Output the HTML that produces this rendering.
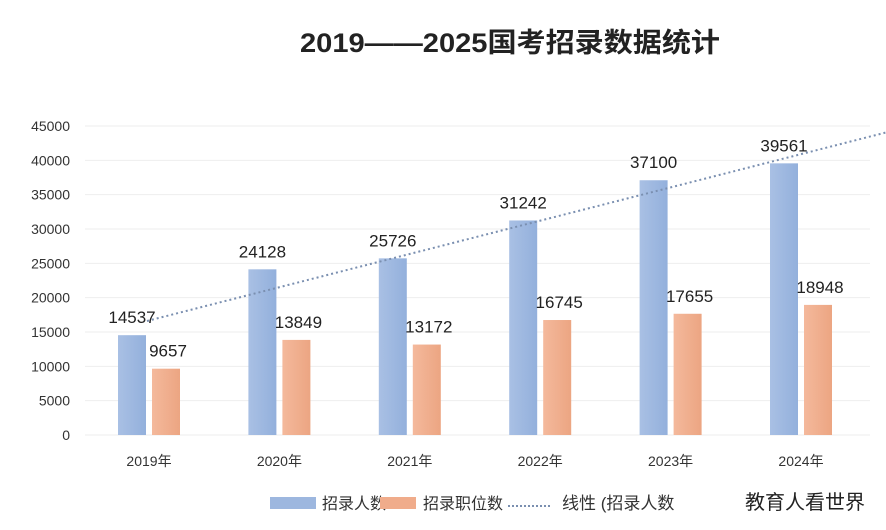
<!DOCTYPE html>
<html><head><meta charset="utf-8"><style>
body{margin:0;background:#fff;}
svg{display:block;font-family:"Liberation Sans","Noto Sans CJK SC",sans-serif;}
</style></head><body>
<svg id="c" width="886" height="530">
<defs>
<linearGradient id="gb" x1="0" x2="1"><stop offset="0" stop-color="#a9c0e4"/><stop offset="1" stop-color="#93b0dc"/></linearGradient>
<linearGradient id="go" x1="0" x2="1"><stop offset="0" stop-color="#f4b99c"/><stop offset="1" stop-color="#eca582"/></linearGradient>
</defs>
<text x="300" y="52" font-size="27" font-weight="bold" fill="#222" textLength="420" lengthAdjust="spacingAndGlyphs">2019——2025国考招录数据统计</text>
<g id="grid"></g><g id="bars"></g><g id="labels"></g>
<g>
<rect x="270" y="497" width="46" height="12" fill="#9db7df"/>
<text x="322" y="509" font-size="16" fill="#333">招录人数</text>
<rect x="380" y="497" width="36" height="12" fill="#f0ac8b"/>
<text x="423" y="509" font-size="16" fill="#333">招录职位数</text>
<line x1="508" y1="506" x2="552" y2="506" stroke="#7a8fb0" stroke-width="2" stroke-dasharray="2 2"/>
<text x="562" y="509" font-size="17" fill="#333">线性 (招录人数</text>
<text x="745" y="509" font-size="20" fill="#222">教育人看世界</text>
</g>
</svg>
<script>
const categories=["2019年","2020年","2021年","2022年","2023年","2024年"];
const hires=[14537,24128,25726,31242,37100,39561];
const positions=[9657,13849,13172,16745,17655,18948];
const ticks=[0,5000,10000,15000,20000,25000,30000,35000,40000,45000];
const NS="http://www.w3.org/2000/svg";
const y0=435,pxPer=309/45000;
const y=v=>y0-v*pxPer;
const x=i=>147+i*130.4;
function mk(tag,attrs,parent,text){const e=document.createElementNS(NS,tag);for(const k in attrs)e.setAttribute(k,attrs[k]);if(text!==undefined)e.textContent=text;document.getElementById(parent).appendChild(e);return e;}
ticks.forEach(t=>{
 const g=mk("line",{x1:85,x2:870,y1:y(t),y2:y(t),stroke:"#eeeeee","stroke-width":1},"grid");
 
 
 const l=mk("text",{x:70,y:y(t)+5,"text-anchor":"end","font-size":14,fill:"#333"},"labels",String(t));
 
 
});
categories.forEach((c,i)=>{
 const b=mk("rect",{x:x(i)-29,y:y(hires[i]),width:28,height:y0-y(hires[i]),fill:"url(#gb)"},"bars");
 
 
 const o=mk("rect",{x:x(i)+5,y:y(positions[i]),width:28,height:y0-y(positions[i]),fill:"url(#go)"},"bars");
 
 
 const t1=mk("text",{x:x(i)-15,y:y(hires[i])-12,"text-anchor":"middle","font-size":17,fill:"#222"},"labels",String(hires[i]));
 
 
 const t2=mk("text",{x:x(i)+21,y:y(positions[i])-12,"text-anchor":"middle","font-size":17,fill:"#222"},"labels",String(positions[i]));
 
 
 const cl=mk("text",{x:x(i)+2,y:466,"text-anchor":"middle","font-size":14,fill:"#333"},"labels",c);
 
 
});
const n=hires.length;let sx=0,sy=0,sxy=0,sxx=0;
hires.forEach((v,i)=>{sx+=i;sy+=v;sxy+=i*v;sxx+=i*i;});
const m=(n*sxy-sx*sy)/(n*sxx-sx*sx),b0=(sy-m*sx)/n;
const xe=5.7;
const tl=mk("line",{x1:x(0),y1:y(b0),x2:x(xe),y2:y(b0+m*xe),stroke:"#7a8fb0","stroke-width":2,"stroke-dasharray":"2 3"},"labels");


</script>
</body></html>
